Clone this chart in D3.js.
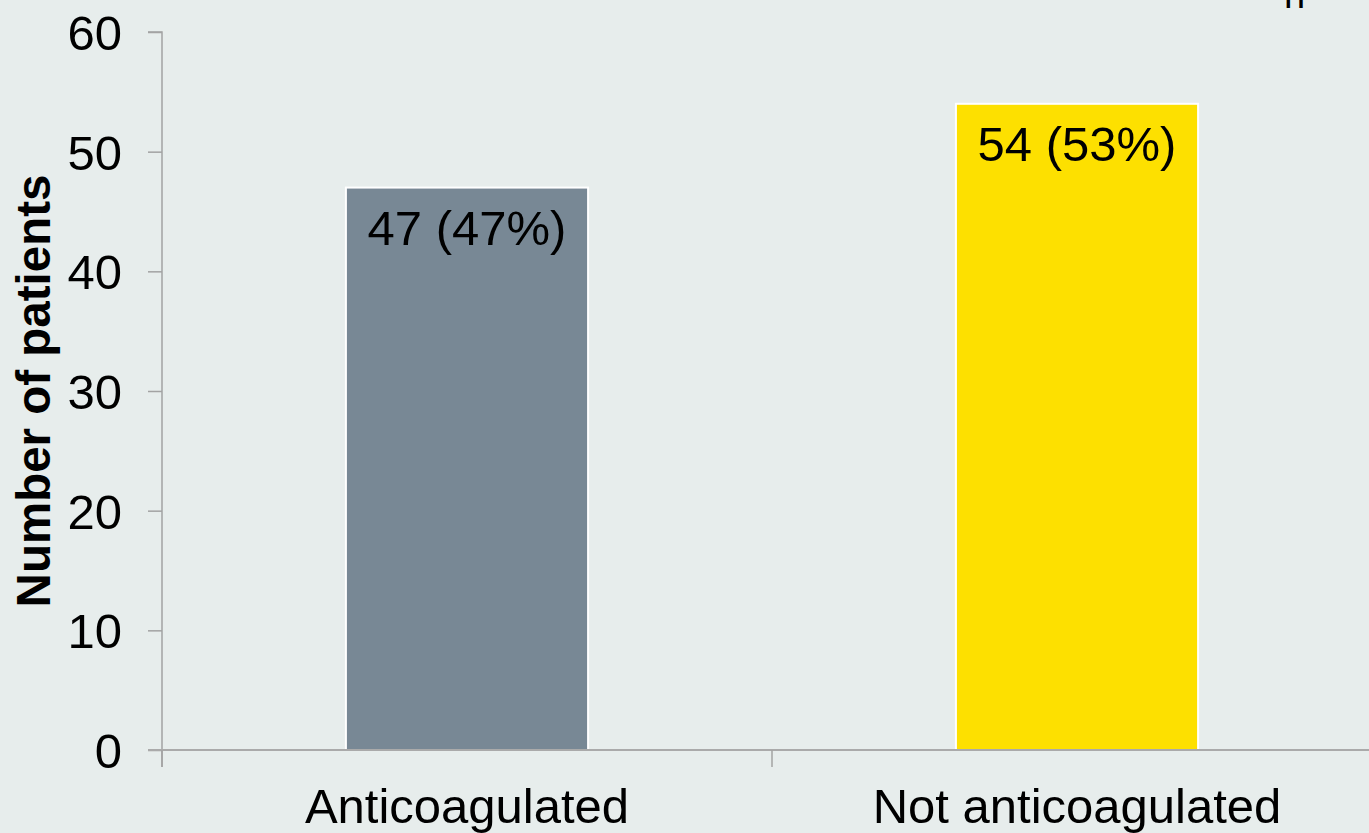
<!DOCTYPE html>
<html>
<head>
<meta charset="utf-8">
<script src="https://cdn.jsdelivr.net/npm/d3@7"></script>
<style>
  body { margin: 0; background: #e7edec; }
  svg { display: block; font-family: "Liberation Sans", Arial, sans-serif; }
</style>
</head>
<body>
<div id="my_dataviz"></div>
<script>
// chart data
var categories = ["Anticoagulated", "Not anticoagulated"];
var counts = [47, 54];
var labels = ["47 (47%)", "54 (53%)"];
var barColors = ["#788895", "#fde000"];
var yTicks = [0, 10, 20, 30, 40, 50, 60];

var width = 1369, height = 833;
var margin = {top: 32, left: 162, bottom: 83};

var svg = d3.select("#my_dataviz")
  .append("svg")
    .attr("width", width)
    .attr("height", height);

svg.append("rect")
  .attr("width", width)
  .attr("height", height)
  .attr("fill", "#e7edec");

// scales
var x = d3.scaleBand()
  .domain(categories)
  .range([margin.left, margin.left + 2 * 610])
  .padding(0);

var y = d3.scaleLinear()
  .domain([0, 60])
  .range([height - margin.bottom, margin.top]);

var barW = x.bandwidth() * 0.397;

// bars
svg.append("g")
  .selectAll("rect")
  .data(categories)
  .enter().append("rect")
    .attr("x", function(d) { return x(d) + (x.bandwidth() - barW) / 2; })
    .attr("y", function(d, i) { return y(counts[i]); })
    .attr("width", barW)
    .attr("height", function(d, i) { return y(0) - y(counts[i]); })
    .attr("fill", function(d, i) { return barColors[i]; })
    .attr("stroke", "#ffffff")
    .attr("stroke-width", 2);

// bar labels
svg.append("g")
  .selectAll("text")
  .data(categories)
  .enter().append("text")
    .attr("x", function(d) { return x(d) + x.bandwidth() / 2; })
    .attr("y", function(d, i) { return y(counts[i]) + 57; })
    .attr("text-anchor", "middle")
    .style("font-size", "49px")
    .attr("fill", "#000")
    .text(function(d, i) { return labels[i]; });

// y axis
var yAxis = svg.append("g")
  .attr("transform", "translate(" + margin.left + ",0)")
  .call(d3.axisLeft(y).tickValues(yTicks).tickSize(14).tickPadding(26));
yAxis.select(".domain").attr("stroke", "#a3a3a3").attr("stroke-width", 1.5)
  .attr("d", "M-14," + y(60) + "H0V" + (y(0) + 17));
yAxis.selectAll(".tick line").attr("stroke", "#a3a3a3").attr("stroke-width", 1.5);
yAxis.selectAll(".tick text")
  .style("font-size", "49px")
  .attr("fill", "#000")
  .attr("dy", "0.36em");

// x axis
var xAxis = svg.append("g")
  .attr("transform", "translate(0," + y(0) + ")")
  .call(d3.axisBottom(x).tickSize(0).tickPadding(38));
xAxis.select(".domain").attr("stroke", "#aaaaaa").attr("stroke-width", 2)
  .attr("d", "M" + (margin.left - 14) + ",0H" + width);
xAxis.selectAll(".tick text")
  .style("font-size", "49px")
  .attr("fill", "#000")
  .attr("dy", "0.72em");

// band separators
svg.append("g")
  .selectAll("line")
  .data(categories)
  .enter().append("line")
    .attr("x1", function(d) { return x(d); })
    .attr("x2", function(d) { return x(d); })
    .attr("y1", y(0))
    .attr("y2", y(0) + 17)
    .attr("stroke", "#a3a3a3")
    .attr("stroke-width", 1.5);

// y axis title
svg.append("text")
  .attr("transform", "translate(50," + ((y(0) + y(60)) / 2) + ") rotate(-90)")
  .attr("text-anchor", "middle")
  .style("font-size", "47.5px")
  .style("font-weight", "bold")
  .attr("fill", "#000")
  .text("Number of patients");

// clipped text at top right
svg.append("text")
  .attr("x", 1284)
  .attr("y", 8)
  .style("font-size", "38px")
  .attr("fill", "#000")
  .text("n");
</script>
</body>
</html>
